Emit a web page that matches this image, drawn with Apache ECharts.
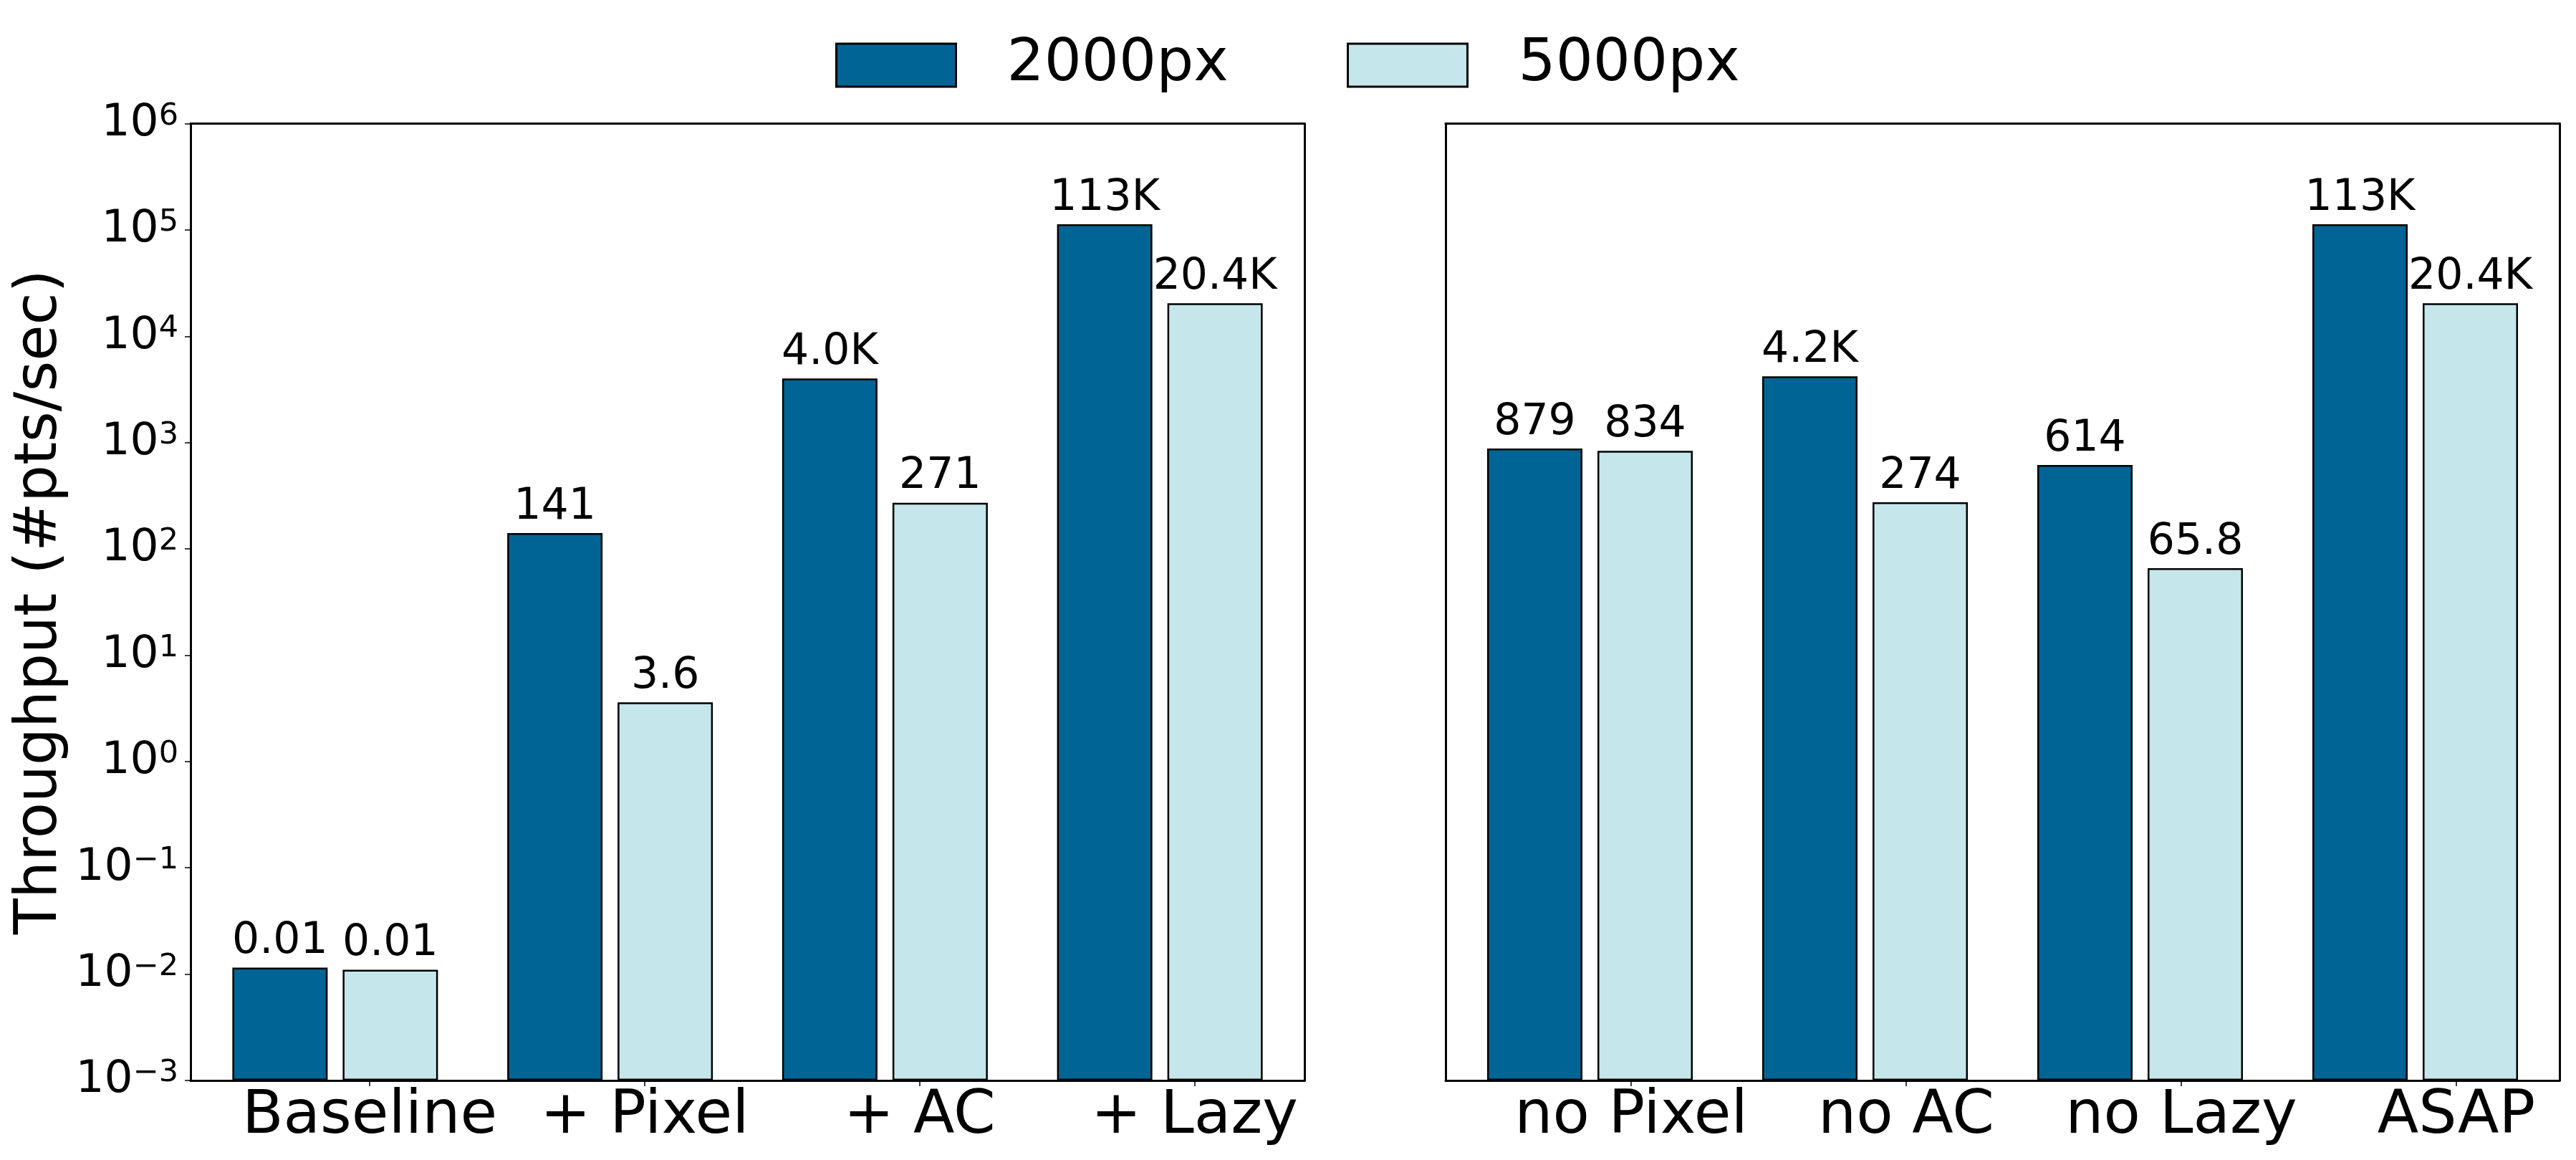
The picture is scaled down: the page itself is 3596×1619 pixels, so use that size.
<!DOCTYPE html>
<html>
<head>
<meta charset="utf-8">
<script src="https://cdn.jsdelivr.net/npm/echarts@6/dist/echarts.min.js"></script>
<style>
html, body { margin: 0; padding: 0; background: #fff; }
#chart { width: 3596px; height: 1619px; }
</style>
</head>
<body>
<div id="chart"></div>
<script>
// categories
var leftCats = ['Baseline', '+ Pixel', '+ AC', '+ Lazy'];
var rightCats = ['no Pixel', 'no AC', 'no Lazy', 'ASAP'];
// throughput values (#pts/sec)
var left2000 = [0.0115, 141, 4000, 113000];
var left5000 = [0.011, 3.6, 271, 20400];
var right2000 = [879, 4200, 614, 113000];
var right5000 = [834, 274, 65.8, 20400];
// bar labels as printed
var left2000Labels = ['0.01', '141', '4.0K', '113K'];
var left5000Labels = ['0.01', '3.6', '271', '20.4K'];
var right2000Labels = ['879', '4.2K', '614', '113K'];
var right5000Labels = ['834', '274', '65.8', '20.4K'];
var yMin = 0.001, yMax = 1000000;

var FONT = 'DejaVu Sans';
var dark = '#006595';
var light = '#c5e6ea';
var top0 = 172.5, h0 = 1335.5;

function frameLine() {
  return { show: true, onZero: false, lineStyle: { color: '#000', width: 3 } };
}
function hiddenBits() {
  return { axisTick: { show: false }, axisLabel: { show: false }, splitLine: { show: false } };
}
function expLabel(v) {
  var e = Math.round(Math.log(v) / Math.LN10);
  var s = e < 0 ? '\u2212' + (-e) : '' + e;
  return '{b|10}{s|' + s + '}';
}
function makeSeries(name, data, labels, color, xi, yi) {
  return {
    type: 'bar', name: name, data: data,
    xAxisIndex: xi, yAxisIndex: yi,
    barWidth: 133, barGap: '15.8%',
    itemStyle: { color: color, borderColor: '#000', borderWidth: 2.5 },
    label: {
      show: true, position: 'top', distance: 6,
      fontFamily: FONT, fontSize: 60, lineHeight: 60, color: '#000',
      formatter: function (p) { return labels[p.dataIndex]; }
    }
  };
}

var grids = [
  { left: 266, top: top0, width: 1555, height: h0 },     // left frame
  { left: 276, top: top0, width: 1535, height: h0 },     // left bars
  { left: 516, top: top0, width: 1151.5, height: h0 },   // left tick labels (first to last tick)
  { left: 2018, top: top0, width: 1555, height: h0 },    // right frame
  { left: 2027.5, top: top0, width: 1536, height: h0 },  // right bars
  { left: 2277, top: top0, width: 1152, height: h0 }     // right tick labels
];

function xAxesFor(g, cats) {
  return [
    Object.assign({ type: 'category', gridIndex: g, position: 'bottom', data: cats, axisLine: frameLine() }, hiddenBits()),
    Object.assign({ type: 'value', gridIndex: g, position: 'top', min: 0, max: 1, axisLine: frameLine() }, hiddenBits()),
    { type: 'category', gridIndex: g + 1, data: cats, show: false },
    {
      type: 'category', gridIndex: g + 2, data: cats, boundaryGap: false,
      axisLine: { show: false, onZero: false },
      axisTick: { show: true, length: 8, lineStyle: { color: '#000', width: 1.5 } },
      axisLabel: { show: true, interval: 0, margin: 9, color: '#000', fontFamily: FONT, fontSize: 84, lineHeight: 84 },
      splitLine: { show: false }
    }
  ];
}

var yAxes = [
  {
    type: 'log', gridIndex: 0, position: 'left', min: yMin, max: yMax, logBase: 10, splitNumber: 9,
    axisLine: frameLine(),
    axisTick: { show: true, length: 8, lineStyle: { color: '#000', width: 1.5 } },
    axisLabel: {
      show: true, margin: 17, formatter: expLabel,
      rich: {
        b: { fontFamily: FONT, fontSize: 63, lineHeight: 63, color: '#000', verticalAlign: 'bottom' },
        s: { fontFamily: FONT, fontSize: 43, lineHeight: 28, color: '#000', verticalAlign: 'top' }
      }
    },
    splitLine: { show: false },
    minorTick: { show: false },
    name: 'Throughput (#pts/sec)', nameLocation: 'middle', nameGap: 168,
    nameTextStyle: { fontFamily: FONT, fontSize: 82, color: '#000' }
  },
  Object.assign({ type: 'value', gridIndex: 0, position: 'right', min: 0, max: 1, axisLine: frameLine() }, hiddenBits()),
  { type: 'log', gridIndex: 1, min: yMin, max: yMax, logBase: 10, startValue: yMin, show: false },
  { type: 'value', gridIndex: 2, show: false },
  Object.assign({ type: 'value', gridIndex: 3, position: 'left', min: 0, max: 1, axisLine: frameLine() }, hiddenBits()),
  Object.assign({ type: 'value', gridIndex: 3, position: 'right', min: 0, max: 1, axisLine: frameLine() }, hiddenBits()),
  { type: 'log', gridIndex: 4, min: yMin, max: yMax, logBase: 10, startValue: yMin, show: false },
  { type: 'value', gridIndex: 5, show: false }
];

function legendFor(name, left) {
  return {
    data: [name], left: left, top: 50, padding: 0, selectedMode: false,
    itemWidth: 167, itemHeight: 60, icon: 'rect',
    itemStyle: { borderColor: '#000', borderWidth: 3 },
    textStyle: { fontFamily: FONT, fontSize: 82, color: '#000', padding: [0, 0, 0, 66] }
  };
}

var myChart = echarts.init(document.getElementById('chart'), null, { renderer: 'canvas' });
var option = {
  backgroundColor: '#fff',
  animation: false,
  legend: [legendFor('2000px', 1166), legendFor('5000px', 1880)],
  grid: grids,
  xAxis: xAxesFor(0, leftCats).concat(xAxesFor(3, rightCats)),
  yAxis: yAxes,
  series: [
    makeSeries('2000px', left2000, left2000Labels, dark, 2, 2),
    makeSeries('5000px', left5000, left5000Labels, light, 2, 2),
    makeSeries('2000px', right2000, right2000Labels, dark, 6, 6),
    makeSeries('5000px', right5000, right5000Labels, light, 6, 6)
  ]
};
myChart.setOption(option);
</script>
</body>
</html>
